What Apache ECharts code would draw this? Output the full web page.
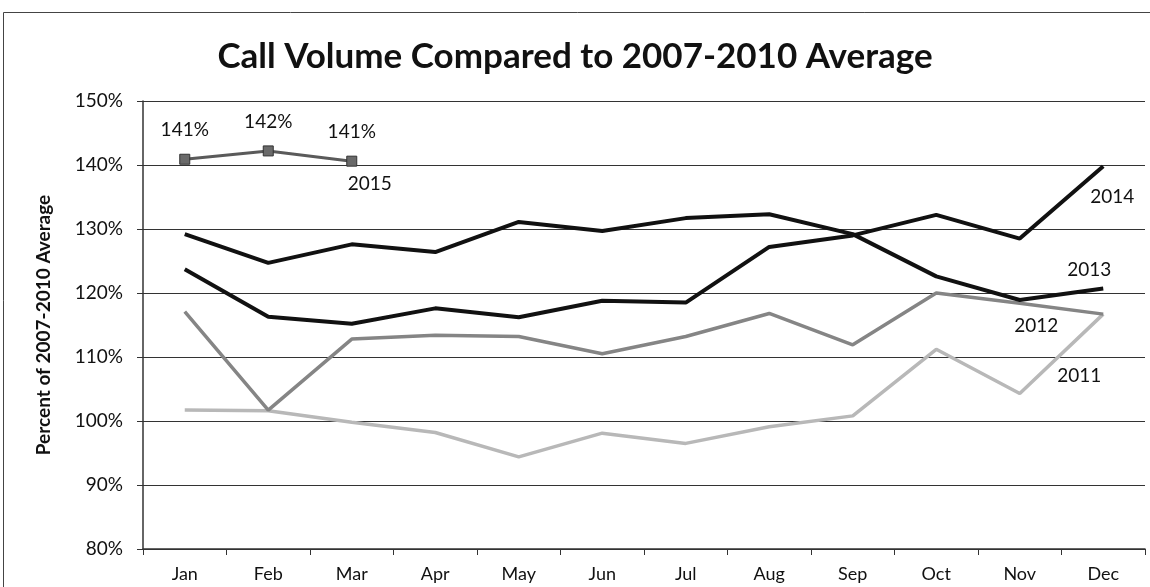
<!DOCTYPE html>
<html>
<head>
<meta charset="utf-8">
<script src="https://cdn.jsdelivr.net/npm/echarts@6/dist/echarts.min.js"></script>
<style>
html,body{margin:0;padding:0;background:#fff;}
#chart{width:1150px;height:587px;}
</style>
</head>
<body>
<div id="chart"></div>
<script>
const months = ['Jan','Feb','Mar','Apr','May','Jun','Jul','Aug','Sep','Oct','Nov','Dec'];
const yTicks = [80, 90, 100, 110, 120, 130, 140, 150];
const s2011 = [101.7, 101.6, 99.8, 98.2, 94.4, 98.1, 96.5, 99.1, 100.8, 111.2, 104.3, 116.7];
const s2012 = [117.1, 101.7, 112.8, 113.4, 113.2, 110.5, 113.2, 116.8, 111.9, 120.0, 118.4, 116.7];
const s2013 = [129.2, 124.7, 127.6, 126.4, 131.1, 129.7, 131.7, 132.3, 129.2, 122.6, 118.9, 120.7];
const s2014 = [123.7, 116.3, 115.2, 117.6, 116.2, 118.8, 118.5, 127.2, 129.0, 132.2, 128.5, 139.8];
const s2015 = [140.9, 142.2, 140.6];
const seriesNames = ['2011', '2012', '2013', '2014', '2015'];

const FONT = 'Lato';
const chart = echarts.init(document.getElementById('chart'));

function endMark(name, data, idx, offset) {
  return {
    symbol: 'rect', symbolSize: 1, silent: true,
    itemStyle: { color: 'rgba(0,0,0,0)' },
    label: { show: true, position: 'inside', offset: offset, formatter: name,
             color: '#111', fontFamily: FONT, fontSize: 19 },
    data: [{ coord: [months[idx], data[idx]] }]
  };
}

chart.setOption({
  animation: false,
  backgroundColor: '#fff',
  title: {
    text: 'Call Volume Compared to 2007-2010 Average',
    left: 'center', top: 34,
    textStyle: { fontFamily: FONT, fontWeight: 'bold', fontSize: 35, color: '#111' }
  },
  graphic: [{
    type: 'rect', silent: true,
    shape: { x: 3.5, y: 12.5, width: 1200, height: 700 },
    style: { fill: 'none', stroke: '#444', lineWidth: 1 }
  }],
  grid: { left: 143, right: 5, top: 101, bottom: 38 },
  xAxis: {
    type: 'category', data: months, boundaryGap: true,
    axisLine: { lineStyle: { color: '#333', width: 1.5 } },
    axisTick: { show: true, length: 6, inside: false, lineStyle: { color: '#333' } },
    axisLabel: { margin: 16, color: '#111', fontFamily: FONT, fontSize: 18 },
    splitLine: { show: false }
  },
  yAxis: {
    type: 'value', min: yTicks[0], max: yTicks[yTicks.length - 1], interval: 10,
    name: 'Percent of 2007-2010 Average', nameLocation: 'middle', nameRotate: 90, nameGap: 90,
    nameTextStyle: { fontFamily: FONT, fontWeight: 'bold', fontSize: 19, color: '#111' },
    axisLine: { show: true, lineStyle: { color: '#333', width: 1.5 } },
    axisTick: { show: true, length: 6, lineStyle: { color: '#333' } },
    axisLabel: { margin: 20, color: '#111', fontFamily: FONT, fontSize: 19, formatter: '{value}%' },
    splitLine: { show: true, lineStyle: { color: '#333', width: 1 } }
  },
  series: [
    { name: seriesNames[0], type: 'line', data: s2011, showSymbol: false, symbol: 'none',
      lineStyle: { color: '#b8b8b8', width: 3.5 }, z: 2,
      markPoint: endMark('2011', s2011, 11, [-24, 62]) },
    { name: seriesNames[1], type: 'line', data: s2012, showSymbol: false, symbol: 'none',
      lineStyle: { color: '#858585', width: 3.5 }, z: 3,
      markPoint: endMark('2012', s2012, 11, [-67, 12]) },
    { name: seriesNames[2], type: 'line', data: s2013, showSymbol: false, symbol: 'none',
      lineStyle: { color: '#111', width: 4 }, z: 4,
      markPoint: endMark('2013', s2013, 11, [-14, -19]) },
    { name: seriesNames[3], type: 'line', data: s2014, showSymbol: false, symbol: 'none',
      lineStyle: { color: '#111', width: 4 }, z: 5,
      markPoint: endMark('2014', s2014, 11, [9, 31]) },
    { name: seriesNames[4], type: 'line', data: s2015, showSymbol: true, symbol: 'rect', symbolSize: 10,
      itemStyle: { color: '#6a6a6a', borderColor: '#333', borderWidth: 1 },
      lineStyle: { color: '#5a5a5a', width: 3 }, z: 6,
      label: { show: true, position: 'top', distance: 14, color: '#111', fontFamily: FONT, fontSize: 19,
               formatter: p => Math.round(p.value) + '%' },
      markPoint: endMark('2015', s2015, 2, [18, 23]) }
  ]
});
</script>
</body>
</html>
